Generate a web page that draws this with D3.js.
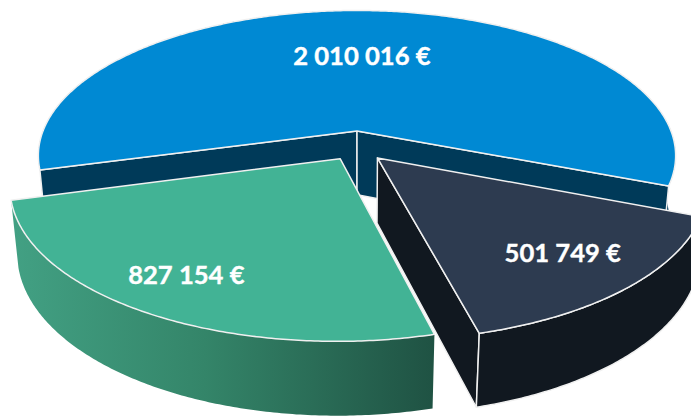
<!DOCTYPE html>
<html>
<head>
<meta charset="utf-8">
<script src="https://cdn.jsdelivr.net/npm/d3@7"></script>
<style>
  html, body { margin: 0; padding: 0; background: #fff; }
  svg { display: block; }
</style>
</head>
<body>
<svg id="chart" width="691" height="416"></svg>
<script>
// Amounts, clockwise from the large slice
const amounts = [2010016, 501749, 827154];
const topColors = ["#0089d3", "#2d3b50", "#42b395"];
const wallColors = ["#003a59", "#111820", "url(#greenWall)"];
const explodeU = [0, 0.063, -0.052];
const explodeV = [0, -0.185, -0.19];
const labelU = [0.017, 0.571, -0.463];
const labelV = [0.582, -0.757, -0.872];

const width = 691, height = 416;
const X0 = 357, Y0 = 131;
const R = 314, K = 141, H = 65;
const PERSPECTIVE = 0.17, SINK = 0.02;

// Tilted-disc projection: u to the right, v away from the viewer, z downward (0 top, 1 bottom)
const project = (u, v, z) => {
  const w = 1 + PERSPECTIVE * v + SINK * z;
  return [X0 + R * u / w, Y0 + (H * z - K * v) / w];
};

const pie = d3.pie().sort(null)
  .startAngle(-105.3 * Math.PI / 180)
  .endAngle((360 - 105.3) * Math.PI / 180);
const slices = pie(amounts);

const line = d3.line();
const closed = pts => line(pts) + "Z";

const arcAngles = s => {
  const n = Math.ceil((s.endAngle - s.startAngle) / 0.01);
  return d3.range(n + 1).map(i => s.startAngle + (s.endAngle - s.startAngle) * i / n);
};
const rim = (s, i, z) => arcAngles(s).map(a =>
  project(Math.sin(a) + explodeU[i], Math.cos(a) + explodeV[i], z));
const apex = (i, z) => project(explodeU[i], explodeV[i], z);

const topFace = (s, i) => closed([apex(i, 0), ...rim(s, i, 0)]);
const outerWall = (s, i) => closed([...rim(s, i, 0), ...rim(s, i, 1).reverse()]);
const cutWall = (i, a) => {
  const p = z => project(Math.sin(a) + explodeU[i], Math.cos(a) + explodeV[i], z);
  return closed([apex(i, 0), p(0), p(1), apex(i, 1)]);
};

const svg = d3.select("#chart");

const grad = svg.append("defs").append("linearGradient")
  .attr("id", "greenWall").attr("gradientUnits", "userSpaceOnUse")
  .attr("x1", 15).attr("x2", 435).attr("y1", 0).attr("y2", 0);
grad.append("stop").attr("offset", 0).attr("stop-color", "#42a083");
grad.append("stop").attr("offset", 0.45).attr("stop-color", "#348569");
grad.append("stop").attr("offset", 1).attr("stop-color", "#1f5243");

const EDGE = "#f0f0f0";
const face = (d, fill, stroke) => svg.append("path")
  .attr("d", d).attr("fill", fill)
  .attr("stroke", stroke ? EDGE : "none")
  .attr("stroke-width", 1.5).attr("stroke-linejoin", "round");

// Large slice first: rim wall, the two cut faces, then the top
const big = slices[0];
face(outerWall(big, 0), wallColors[0], false);
face(cutWall(0, big.startAngle), wallColors[0], true);
face(cutWall(0, big.endAngle), wallColors[0], true);
face(topFace(big, 0), topColors[0], true);

// Pulled-out slices sit in front of it; the dark one shows its left cut face
[1, 2].forEach(i => {
  const s = slices[i];
  if (i === 1) face(cutWall(1, s.endAngle), wallColors[1], true);
  face(outerWall(s, i), wallColors[i], i === 1);
  face(topFace(s, i), topColors[i], true);
});

// Value labels: "2 010 016 €"
const euro = d3.formatLocale({ decimal: ",", thousands: "\u00a0", grouping: [3], currency: ["", " €"] }).format("$,d");
svg.selectAll("text.value").data(amounts).join("text")
  .attr("class", "value")
  .attr("x", (d, i) => project(labelU[i], labelV[i], 0)[0])
  .attr("y", (d, i) => project(labelU[i], labelV[i], 0)[1])
  .attr("dy", "0.35em")
  .attr("text-anchor", "middle")
  .attr("font-family", "Lato, 'Open Sans', sans-serif")
  .attr("font-weight", 700)
  .attr("font-size", 25.6)
  .attr("stroke", "#fff")
  .attr("stroke-width", 0.4)
  .attr("fill", "#fff")
  .text(d => euro(d));
</script>
</body>
</html>
